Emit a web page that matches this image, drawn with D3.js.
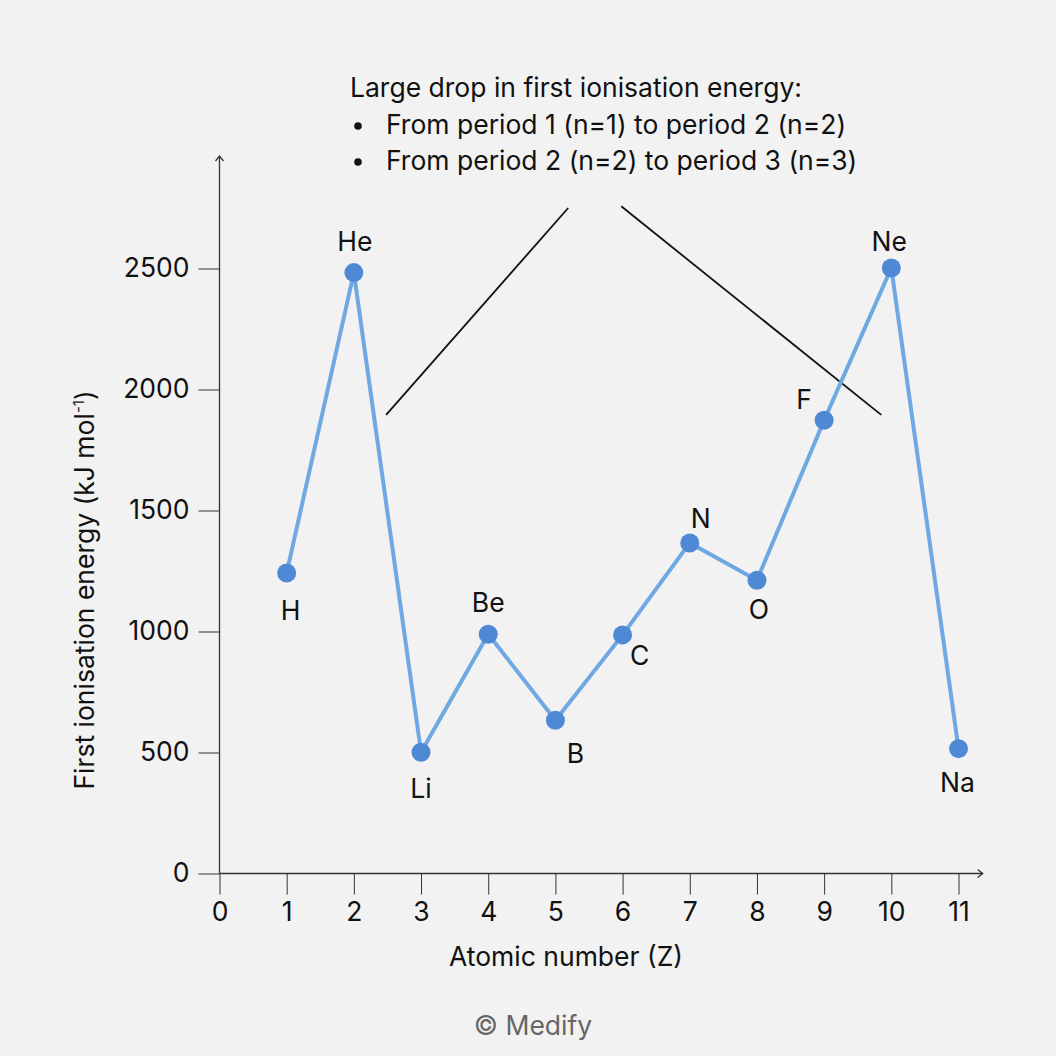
<!DOCTYPE html>
<html>
<head>
<meta charset="utf-8">
<script src="https://cdn.jsdelivr.net/npm/d3@7"></script>
<style>
  html, body { margin: 0; padding: 0; background: #f2f2f2; }
  svg { display: block; font-family: Inter, "Liberation Sans", Arial, sans-serif; }
</style>
</head>
<body>
<svg id="chart"></svg>
<script>
// datos
const elementos = ["H", "He", "Li", "Be", "B", "C", "N", "O", "F", "Ne", "Na"];
const numeroAtomico = [1, 2, 3, 4, 5, 6, 7, 8, 9, 10, 11];
const energia = [1242, 2483, 501, 989, 633, 986, 1366, 1212, 1873, 2502, 516];
const ticksX = [0, 1, 2, 3, 4, 5, 6, 7, 8, 9, 10, 11];
const ticksY = [0, 500, 1000, 1500, 2000, 2500];
const notaLineas = [
  "Large drop in first ionisation energy:",
  "From period 1 (n=1) to period 2 (n=2)",
  "From period 2 (n=2) to period 3 (n=3)"
];

// desplazamiento de cada etiqueta respecto a su punto (px)
const etiquetaOffset = [
  [4, 47], [1, -22], [0, 46], [0, -22], [20, 43], [17, 30],
  [11, -15], [2, 39], [-20, -11], [-2, -17], [-1, 43]
];

const WIDTH = 1056, HEIGHT = 1056;
const FUENTE = "Inter, Liberation Sans, Arial, sans-serif";
const TAM = 26.5;

const svg = d3.select("#chart")
  .attr("width", WIDTH)
  .attr("height", HEIGHT);

svg.append("rect")
  .attr("width", WIDTH)
  .attr("height", HEIGHT)
  .attr("fill", "#f2f2f2");

const x = d3.scaleLinear().domain([0, 11]).range([219.5, 958.5]);
const y = d3.scaleLinear().domain([0, 2500]).range([873.5, 268.5]);

const datos = numeroAtomico.map((z, i) => ({ z, e: energia[i], nombre: elementos[i], off: etiquetaOffset[i] }));

// eje X
const ejeX = svg.append("g")
  .attr("transform", `translate(0 ${y(0)})`)
  .call(d3.axisBottom(x).tickValues(ticksX).tickFormat(d3.format("d"))
    .tickSize(21).tickPadding(8).tickSizeOuter(0));
ejeX.select(".domain").remove();
ejeX.selectAll(".tick line").attr("stroke", "#333");
ejeX.selectAll(".tick text")
  .attr("font-size", TAM)
  .attr("fill", "#111")
  .attr("font-family", FUENTE);

// eje Y
const ejeY = svg.append("g")
  .attr("transform", `translate(${x(0)} 0)`)
  .call(d3.axisLeft(y).tickValues(ticksY).tickFormat(d3.format("d"))
    .tickSize(21).tickPadding(9).tickSizeOuter(0));
ejeY.select(".domain").remove();
ejeY.selectAll(".tick line").attr("stroke", "#333");
ejeY.selectAll(".tick text")
  .attr("font-size", TAM)
  .attr("fill", "#111")
  .attr("font-family", FUENTE);

// lineas de los ejes con flechas
const xFin = x(11.36), yFin = y(2965);
svg.append("line")
  .attr("x1", x(0)).attr("x2", xFin)
  .attr("y1", y(0)).attr("y2", y(0))
  .attr("stroke", "#333").attr("stroke-width", 1.3);
svg.append("path")
  .attr("d", `M${xFin - 5},${y(0) - 4}L${xFin},${y(0)}L${xFin - 5},${y(0) + 4}`)
  .attr("fill", "none").attr("stroke", "#333").attr("stroke-width", 1.3);
svg.append("line")
  .attr("x1", x(0)).attr("x2", x(0))
  .attr("y1", y(0)).attr("y2", yFin)
  .attr("stroke", "#333").attr("stroke-width", 1.3);
svg.append("path")
  .attr("d", `M${x(0) - 4},${yFin + 5}L${x(0)},${yFin}L${x(0) + 4},${yFin + 5}`)
  .attr("fill", "none").attr("stroke", "#333").attr("stroke-width", 1.3);

// titulos de ejes
svg.append("text")
  .attr("x", 566)
  .attr("y", 966)
  .attr("text-anchor", "middle")
  .attr("font-size", TAM)
  .attr("fill", "#111")
  .text("Atomic number (Z)");

const tituloY = svg.append("text")
  .attr("transform", `translate(94 ${590}) rotate(-90)`)
  .attr("text-anchor", "middle")
  .attr("font-size", TAM)
  .attr("fill", "#111");
tituloY.append("tspan").text("First ionisation energy (kJ mol");
tituloY.append("tspan").attr("font-size", 15).attr("dy", -10).text("-1");
tituloY.append("tspan").attr("dy", 10).text(")");

// lineas de anotacion
svg.append("line")
  .attr("x1", x(2.48)).attr("y1", y(1895))
  .attr("x2", x(5.19)).attr("y2", y(2750))
  .attr("stroke", "#111").attr("stroke-width", 1.8);
svg.append("line")
  .attr("x1", x(5.98)).attr("y1", y(2757))
  .attr("x2", x(9.85)).attr("y2", y(1895))
  .attr("stroke", "#111").attr("stroke-width", 1.8);

// texto de anotacion
svg.append("text")
  .attr("x", 350).attr("y", 97)
  .attr("font-size", TAM).attr("fill", "#111")
  .text(notaLineas[0]);
notaLineas.slice(1).forEach((t, i) => {
  svg.append("circle")
    .attr("cx", 358).attr("cy", 126 + i * 36).attr("r", 3.8)
    .attr("fill", "#111");
  svg.append("text")
    .attr("x", 386).attr("y", 134 + i * 36)
    .attr("font-size", TAM).attr("fill", "#111")
    .text(t);
});

// serie
const linea = d3.line().x(d => x(d.z)).y(d => y(d.e));
svg.append("path")
  .datum(datos)
  .attr("d", linea)
  .attr("fill", "none")
  .attr("stroke", "#6fa8e3")
  .attr("stroke-width", 4);

svg.append("g")
  .selectAll("circle")
  .data(datos)
  .join("circle")
  .attr("cx", d => x(d.z))
  .attr("cy", d => y(d.e))
  .attr("r", 9.5)
  .attr("fill", "#4f88d4");

svg.append("g")
  .selectAll("text")
  .data(datos)
  .join("text")
  .attr("x", d => x(d.z) + d.off[0])
  .attr("y", d => y(d.e) + d.off[1])
  .attr("text-anchor", "middle")
  .attr("font-size", TAM)
  .attr("fill", "#111")
  .text(d => d.nombre);

// credito
svg.append("text")
  .attr("x", 533).attr("y", 1035)
  .attr("text-anchor", "middle")
  .attr("font-size", TAM)
  .attr("fill", "#666")
  .text("\u00A9 Medify");
</script>
</body>
</html>
